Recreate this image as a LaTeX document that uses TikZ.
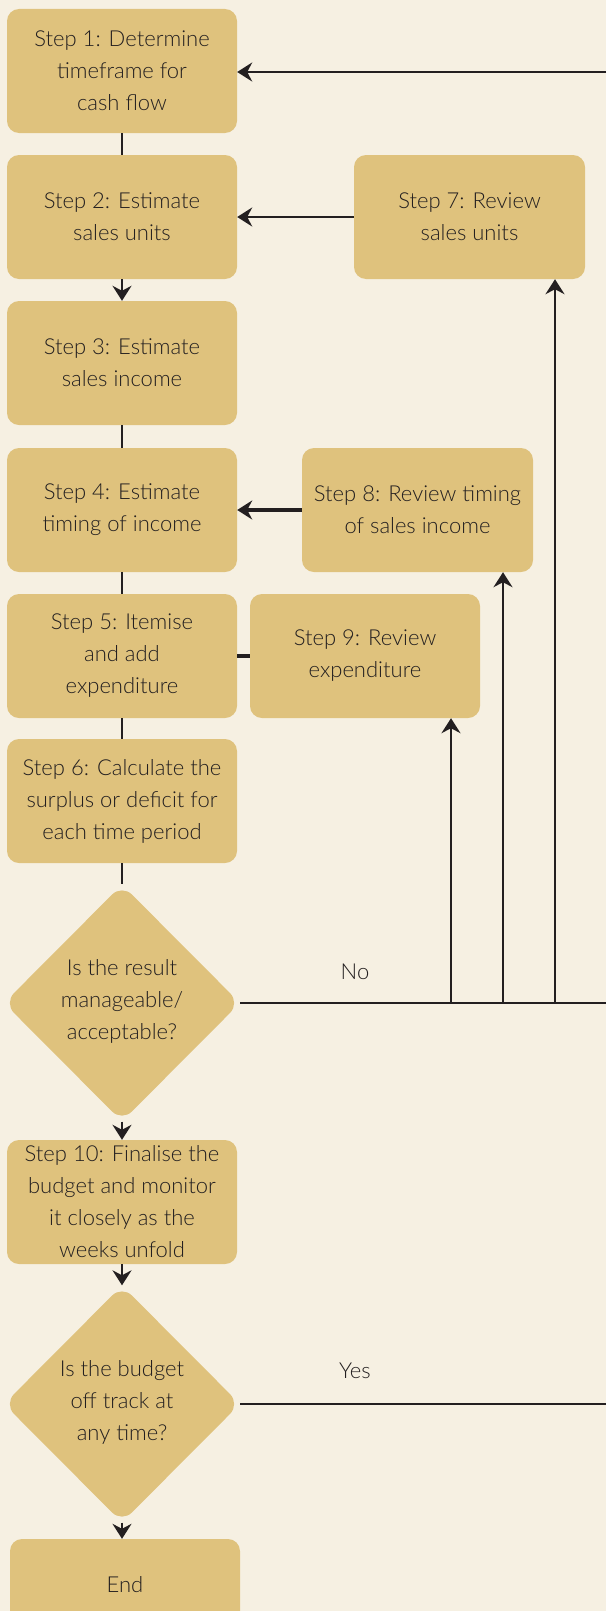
\documentclass[tikz,border=0pt]{standalone}
\usepackage{fontspec}
\setmainfont{Lato Light}
\usetikzlibrary{arrows.meta,shapes.geometric}
\definecolor{bg}{HTML}{F6F0E2}
\definecolor{boxc}{HTML}{DFC27D}
\definecolor{lc}{HTML}{231F20}
\definecolor{txt}{HTML}{231F20}
\tikzset{
  box/.style={fill=boxc, rounded corners=12pt, minimum width=230pt, minimum height=124pt,
    align=center, inner sep=0pt, text=txt, font=\fontsize{22}{32}\selectfont},
  dia/.style={diamond, fill=boxc, rounded corners=14pt, aspect=1, minimum width=236pt,
    minimum height=237pt, inner sep=0pt},
  dtext/.style={align=center, inner sep=0pt, text=txt, font=\fontsize{22}{32}\selectfont},
  lbl/.style={inner sep=0pt, text=txt, font=\fontsize{22}{32}\selectfont},
  conn/.style={draw=lc, line width=2.2pt},
  thickconn/.style={draw=lc, line width=4pt},
  arr/.style={-{Stealth[length=15pt,width=19pt,inset=5pt]}}
}
\begin{document}
\begin{tikzpicture}[x=1pt,y=-1pt]
\useasboundingbox (0,0) rectangle (606,1611);
\fill[bg] (0,0) rectangle (606,1611);

\node[box] (b1) at (122,71) {Step 1: Determine\\timeframe for\\cash flow};
\node[box] (b2) at (122,217) {Step 2: Estimate\\sales units};
\node[box] (b3) at (122,363) {Step 3: Estimate\\sales income};
\node[box] (b4) at (122,510) {Step 4: Estimate\\timing of income};
\node[box] (b5) at (122,656) {Step 5: Itemise\\and add\\expenditure};
\node[box] (b6) at (122,801) {Step 6: Calculate the\\surplus or deficit for\\each time period};
\node[dia] (d1) at (122,1003) {};
\node[dtext] (d1t) at (122,1001) {Is the result\\manageable/\\acceptable?};
\node[box] (b10) at (122,1202) {Step 10: Finalise the\\budget and monitor\\it closely as the\\weeks unfold};
\node[dia] (d2) at (122,1404) {};
\node[dtext] (d2t) at (122,1402) {Is the budget\\off track at\\any time?};
\node[box, minimum height=92pt] (end) at (125,1585) {End};

\node[box, minimum width=231pt] (b7) at (469.5,217) {Step 7: Review\\sales units};
\node[box, minimum width=231pt] (b8) at (417.5,510) {Step 8: Review timing\\of sales income};
\node[box] (b9) at (365,656) {Step 9: Review\\expenditure};

\node[lbl] (no) at (355,972) {No};
\node[lbl] (yes) at (355,1371) {Yes};

\coordinate (r0) at (606,72);
\coordinate (r1) at (606,1003);
\coordinate (r2) at (606,1404);
\coordinate (j7) at (555,1003);
\coordinate (j8) at (503,1003);
\coordinate (j9) at (451,1003);

% main column
\draw[conn] (b1) -- (b2);
\draw[conn,arr] (b2.south) -- (b3.north);
\draw[conn] (b3) -- (b4);
\draw[conn] (b4) -- (b5);
\draw[conn] (b5) -- (b6);
\draw[conn] (b6.south) -- (d1.north);
\draw[conn,arr] (d1.south) -- (b10.north);
\draw[conn,arr] (b10.south) -- (d2.north);
\draw[conn,arr] (d2.south) -- (end.north -| d2.south);

% loops
\draw[conn,arr] (r0) -- (b1.east |- r0);
\draw[conn,arr] (b7.west) -- (b2.east);
\draw[thickconn,arr] (b8.west) -- (b4.east);
\draw[thickconn] (b5.east) -- (b9.west);
\draw[conn] (d1.east) -- (r1);
\draw[conn,arr] (j7) -- (j7 |- b7.south);
\draw[conn,arr] (j8) -- (j8 |- b8.south);
\draw[conn,arr] (j9) -- (j9 |- b9.south);
\draw[conn] (d2.east) -- (r2);
\end{tikzpicture}
\end{document}
